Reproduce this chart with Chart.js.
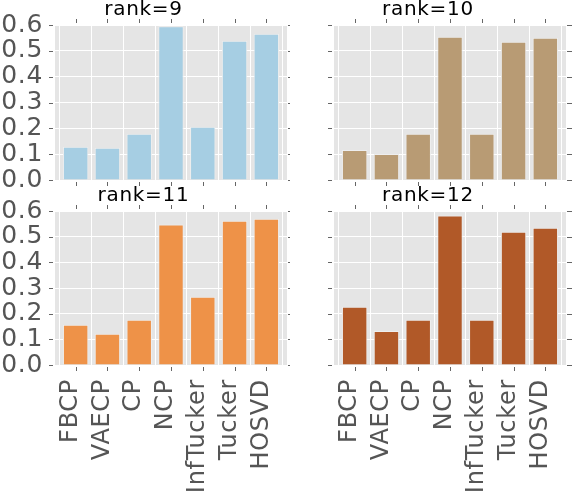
<!DOCTYPE html>
<html>
<head>
<meta charset="utf-8">
<script src="https://cdn.jsdelivr.net/npm/chart.js@4/dist/chart.umd.min.js"></script>
<style>
  html, body { margin: 0; padding: 0; background: #ffffff; }
  #wrap { position: relative; width: 574px; height: 504px; overflow: hidden; background: #ffffff; }
  canvas { position: absolute; }
</style>
</head>
<body>
<div id="wrap">
  <canvas id="c9" width="290" height="190" style="left:0px;top:0px"></canvas>
  <canvas id="c10" width="284" height="190" style="left:290px;top:0px"></canvas>
  <canvas id="c11" width="290" height="326" style="left:0px;top:178px"></canvas>
  <canvas id="c12" width="284" height="326" style="left:290px;top:178px"></canvas>
</div>
<script>
// ---- data ----
const categories = ['FBCP', 'VAECP', 'CP', 'NCP', 'InfTucker', 'Tucker', 'HOSVD'];
const rank9  = [0.129, 0.125, 0.179, 0.595, 0.206, 0.539, 0.566];
const rank10 = [0.116, 0.101, 0.179, 0.555, 0.179, 0.535, 0.551];
const rank11 = [0.157, 0.122, 0.176, 0.547, 0.266, 0.562, 0.570];
const rank12 = [0.227, 0.132, 0.176, 0.582, 0.176, 0.519, 0.535];
const yTickValues = [0.0, 0.1, 0.2, 0.3, 0.4, 0.5, 0.6];
const titles = ['rank=9', 'rank=10', 'rank=11', 'rank=12'];
const colors = ['#a6cee3', '#b89b74', '#ee9248', '#b15928'];

const FONT = "'DejaVu Sans', 'Bitstream Vera Sans', sans-serif";

const bgPlugin = {
  id: 'panelBg',
  beforeDraw(chart) {
    const a = chart.chartArea, ctx = chart.ctx;
    ctx.letterSpacing = '0.7px';
    ctx.save();
    ctx.fillStyle = '#e5e5e5';
    ctx.fillRect(a.left, a.top, a.right - a.left, a.bottom - a.top);
    ctx.restore();
  }
};

const tickPlugin = {
  id: 'tickMarks',
  afterDraw(chart) {
    const ctx = chart.ctx, a = chart.chartArea;
    const xs = chart.scales.x, ys = chart.scales.y;
    ctx.save();
    ctx.strokeStyle = '#666666';
    ctx.lineWidth = 1;
    ctx.beginPath();
    ys.ticks.forEach(t => {
      const p = Math.round(ys.getPixelForValue(t.value)) + 0.5;
      ctx.moveTo(a.left - 2, p); ctx.lineTo(a.left - 6, p);
      ctx.moveTo(a.right + 1, p); ctx.lineTo(a.right + 6, p);
    });
    xs.ticks.forEach(t => {
      const p = Math.round(xs.getPixelForValue(t.value)) + 0.5;
      ctx.moveTo(p, a.top - 2); ctx.lineTo(p, a.top - 6);
      ctx.moveTo(p, a.bottom + 2); ctx.lineTo(p, a.bottom + 6);
    });
    ctx.stroke();
    ctx.restore();
  }
};

function makePanel(id, values, color, title, opts) {
  new Chart(document.getElementById(id), {
    type: 'bar',
    data: {
      datasets: [{
        data: values.map((v, i) => ({ x: i, y: v })),
        backgroundColor: color,
        borderColor: '#eeeeee',
        borderWidth: 1,
        categoryPercentage: 1.0,
        barPercentage: 0.8
      }]
    },
    options: {
      responsive: false,
      animation: false,
      devicePixelRatio: 1,
      layout: { padding: { left: 0, right: opts.padRight, top: 0, bottom: 0 } },
      plugins: {
        legend: { display: false },
        tooltip: { enabled: false },
        title: {
          display: true,
          text: title,
          color: '#000000',
          font: { family: FONT, size: 20, weight: 'normal', lineHeight: 1.0 },
          padding: { top: opts.titleTop, bottom: opts.titleBottom }
        }
      },
      scales: {
        x: {
          type: 'linear',
          offset: false,
          min: -0.65,
          max: 6.65,
          afterBuildTicks: axis => { axis.ticks = categories.map((c, i) => ({ value: i })); },
          afterFit: axis => {
            axis.height = opts.xHeight;
            axis.paddingLeft = 0; axis.paddingRight = 0;
            axis.paddingTop = 0; axis.paddingBottom = 0;
          },
          grid: { color: '#ffffff', lineWidth: 1, drawTicks: false },
          border: { display: false },
          ticks: {
            display: opts.showX,
            autoSkip: false,
            minRotation: 90,
            maxRotation: 90,
            padding: 14,
            labelOffset: -5,
            color: '#555555',
            font: { family: FONT, size: 24 },
            callback: v => categories[v]
          }
        },
        y: {
          min: 0,
          max: 0.6,
          afterBuildTicks: axis => { axis.ticks = yTickValues.map(v => ({ value: v })); },
          afterFit: axis => {
            axis.width = opts.yWidth;
            axis.paddingTop = 0; axis.paddingBottom = 0;
            axis.paddingLeft = 0; axis.paddingRight = 0;
          },
          grid: { color: '#ffffff', lineWidth: 1, drawTicks: false },
          border: { display: false },
          ticks: {
            display: opts.showY,
            autoSkip: false,
            padding: 12,
            color: '#555555',
            font: { family: FONT, size: 25 },
            callback: v => Number(v).toFixed(1)
          }
        }
      }
    },
    plugins: [bgPlugin, tickPlugin]
  });
}

makePanel('c9',  rank9,  colors[0], titles[0], { padRight: 3, yWidth: 55, xHeight: 10,  titleTop: 0, titleBottom: 5, showX: false, showY: true });
makePanel('c10', rank10, colors[1], titles[1], { padRight: 8, yWidth: 44, xHeight: 10,  titleTop: 0, titleBottom: 5, showX: false, showY: false });
makePanel('c11', rank11, colors[2], titles[2], { padRight: 3, yWidth: 55, xHeight: 139, titleTop: 8, titleBottom: 5, showX: true, showY: true });
makePanel('c12', rank12, colors[3], titles[3], { padRight: 8, yWidth: 44, xHeight: 139, titleTop: 8, titleBottom: 5, showX: true, showY: false });
</script>
</body>
</html>
